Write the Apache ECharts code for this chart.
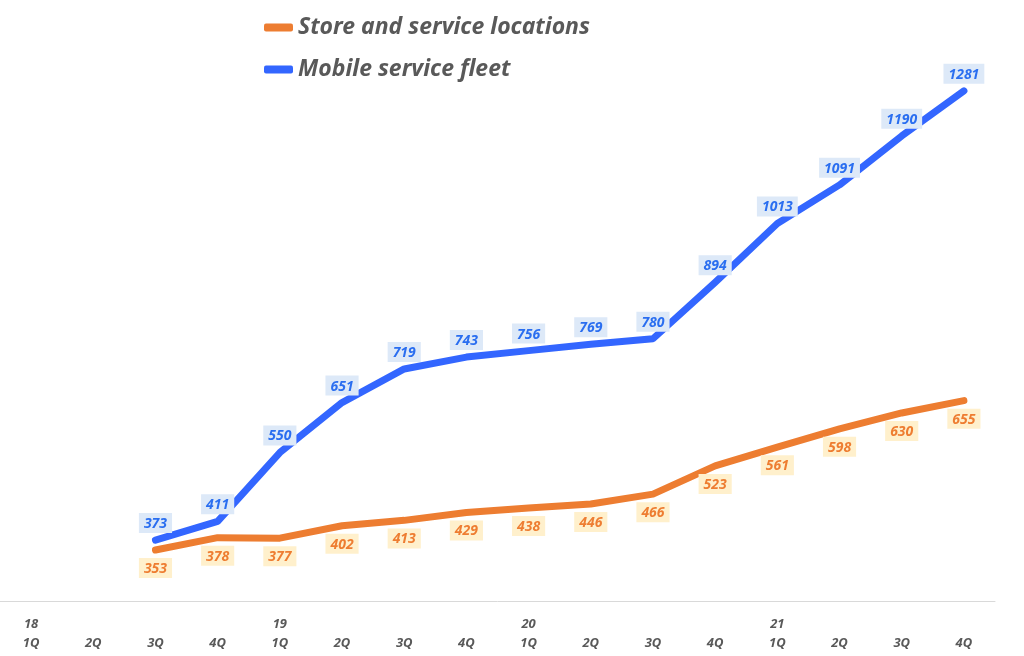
<!DOCTYPE html>
<html><head><meta charset="utf-8">
<script src="https://cdn.jsdelivr.net/npm/echarts@6/dist/echarts.min.js"></script>
<style>html,body{margin:0;padding:0;background:#fff}#c{width:1024px;height:656px}</style>
</head><body><div id="c"></div>
<script>
var categories = ['18\n1Q','\n2Q','\n3Q','\n4Q','19\n1Q','\n2Q','\n3Q','\n4Q','20\n1Q','\n2Q','\n3Q','\n4Q','21\n1Q','\n2Q','\n3Q','\n4Q'];
var storeLocations = [null,null,353,378,377,402,413,429,438,446,466,523,561,598,630,655];
var mobileFleet = [null,null,373,411,550,651,719,743,756,769,780,894,1013,1091,1190,1281];
var seriesNames = ['Store and service locations','Mobile service fleet'];

var chart = echarts.init(document.getElementById('c'));
var font = '"Noto Sans", "Open Sans", sans-serif';
chart.setOption({
  animation:false,
  textStyle:{fontFamily:font},
  legend:{
    orient:'vertical', left:259, top:11, itemGap:19, itemWidth:29, itemHeight:8,
    icon:'roundRect',
    textStyle:{fontSize:23, fontWeight:'bold', fontStyle:'italic', color:'#595959', fontFamily:font},
    data:seriesNames
  },
  grid:{left:0, right:29, top:32, bottom:55, containLabel:false},
  xAxis:{
    type:'category', data:categories, boundaryGap:true,
    axisLine:{lineStyle:{color:'#d9d9d9', width:1}},
    axisTick:{show:false},
    axisLabel:{interval:0, margin:14, lineHeight:19, fontSize:13, fontWeight:'bold', fontStyle:'italic', color:'#595959', fontFamily:font}
  },
  yAxis:{type:'value', min:250, max:1400, show:false, splitLine:{show:false}},
  series:[
    {name:seriesNames[0], type:'line', data:storeLocations, symbol:'circle', symbolSize:0.1, showSymbol:true, connectNulls:false,
     lineStyle:{color:'#ed7d31', width:7, cap:'round', join:'round'}, itemStyle:{color:'#ed7d31'},
     label:{show:true, position:'bottom', distance:8, fontSize:14, fontWeight:'bold', fontStyle:'italic', color:'#ee7d31',
       backgroundColor:'#fff0cc', padding:[4,5,2,5], fontFamily:font}},
    {name:seriesNames[1], type:'line', data:mobileFleet, symbol:'circle', symbolSize:0.1, showSymbol:true, connectNulls:false,
     lineStyle:{color:'#3366ff', width:7, cap:'round', join:'round'}, itemStyle:{color:'#3366ff'},
     label:{show:true, position:'top', distance:7, fontSize:14, fontWeight:'bold', fontStyle:'italic', color:'#2a6ef0',
       backgroundColor:'#dde9f8', padding:[4,5,2,5], fontFamily:font}}
  ]
});
</script></body></html>
